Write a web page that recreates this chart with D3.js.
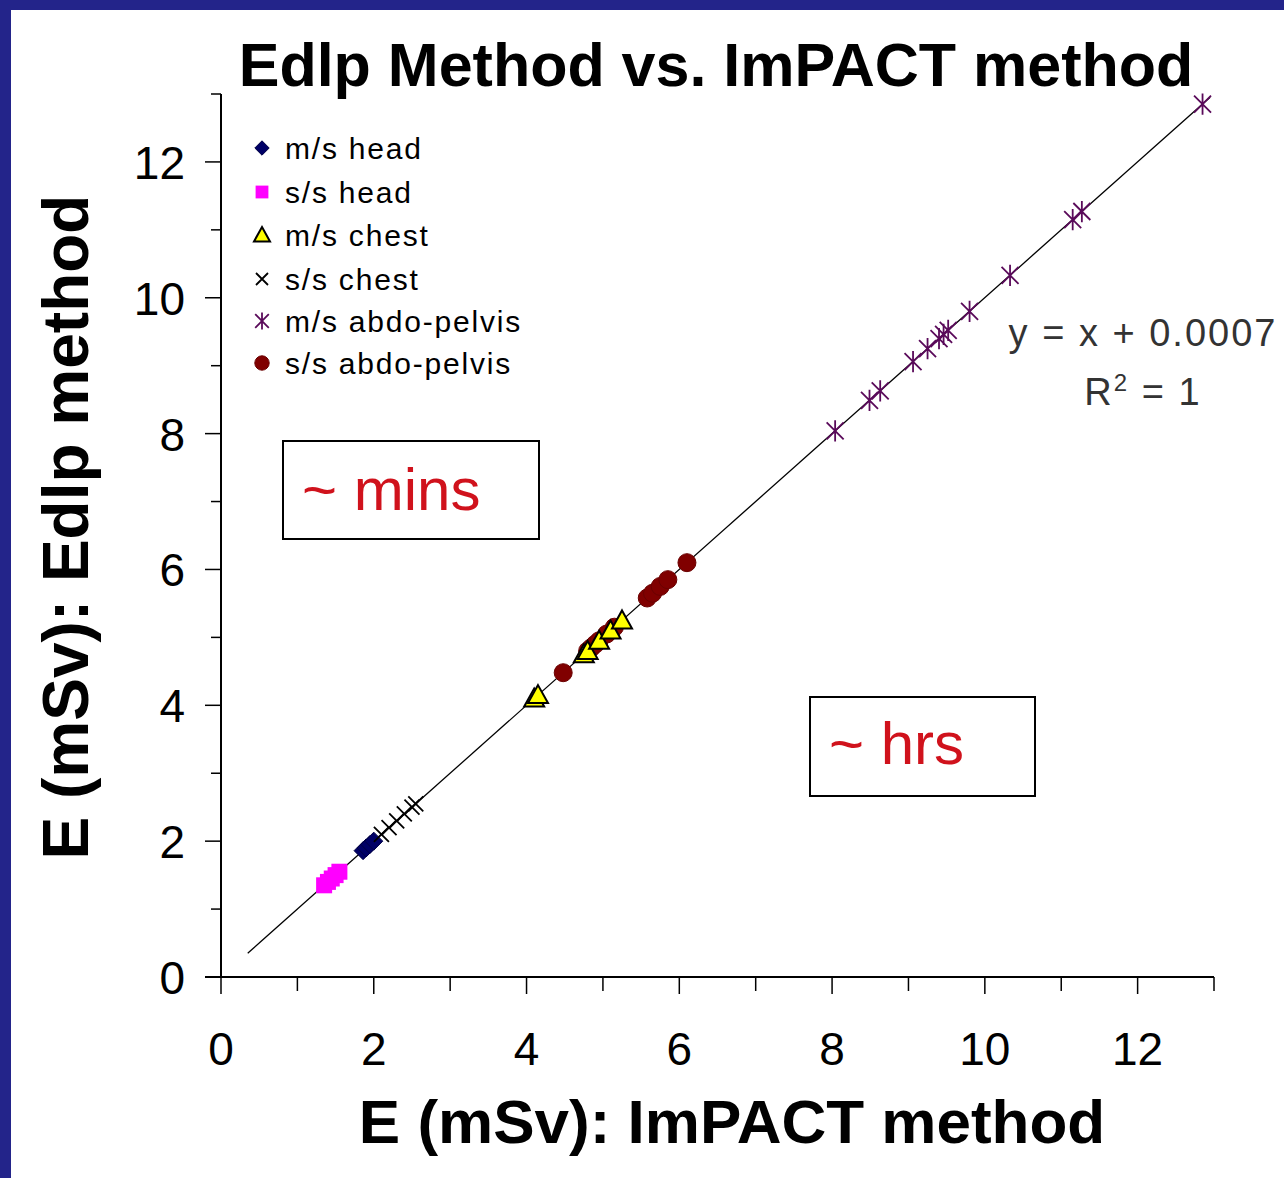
<!DOCTYPE html>
<html>
<head>
<meta charset="utf-8">
<script src="https://cdn.jsdelivr.net/npm/d3@7"></script>
<style>
  html, body { margin: 0; padding: 0; background: #ffffff; }
  svg { display: block; }
  text { font-family: "Liberation Sans", Arial, sans-serif; }
</style>
</head>
<body>
<svg id="chart" width="1284" height="1178"></svg>
<script>
// ---------------- data ----------------
const titleText = "Edlp Method vs. ImPACT method";
const xLabel = "E (mSv): ImPACT method";
const yLabel = "E (mSv): Edlp method";
const xTicks = [0, 2, 4, 6, 8, 10, 12];
const yTicks = [0, 2, 4, 6, 8, 10, 12];
const minorTicks = [1, 3, 5, 7, 9, 11, 13];
const seriesNames = ["m/s head", "s/s head", "m/s chest", "s/s chest", "m/s abdo-pelvis", "s/s abdo-pelvis"];

// [ImPACT, Edlp] pairs
const msHead = [[1.86, 1.86], [1.90, 1.90], [1.95, 1.95], [2.00, 2.00]];
const ssHead = [[1.35, 1.35], [1.40, 1.40], [1.45, 1.45], [1.50, 1.50], [1.55, 1.55]];
const msChest = [[4.10, 4.10], [4.15, 4.15], [4.75, 4.75], [4.80, 4.80], [4.95, 4.95], [5.10, 5.10], [5.25, 5.25]];
const ssChest = [[2.10, 2.10], [2.20, 2.20], [2.30, 2.30], [2.40, 2.40], [2.50, 2.50], [2.55, 2.55]];
const msAbdo = [[8.04, 8.04], [8.49, 8.49], [8.63, 8.63], [9.06, 9.06], [9.25, 9.25], [9.40, 9.40], [9.46, 9.46], [9.52, 9.52], [9.80, 9.80], [10.33, 10.33], [11.15, 11.15], [11.27, 11.27], [12.85, 12.85]];
const ssAbdo = [[4.48, 4.48], [4.80, 4.80], [4.85, 4.85], [4.90, 4.90], [4.95, 4.95], [5.05, 5.05], [5.15, 5.15], [5.58, 5.58], [5.65, 5.65], [5.75, 5.75], [5.85, 5.85], [6.10, 6.10]];

const trendSlope = 1;
const trendIntercept = 0.0007;
const trendRange = [0.35, 12.95];
const eqText = "y = x  + 0.0007";
const r2Text = ["R", "2", " = 1"];
const boxLabels = ["~ mins", "~ hrs"];

// ---------------- drawing ----------------
const svg = d3.select("#chart");

// frame
svg.append("rect").attr("x", 0).attr("y", 0).attr("width", 1284).attr("height", 10).attr("fill", "#23248a");
svg.append("rect").attr("x", 0).attr("y", 0).attr("width", 11).attr("height", 1178).attr("fill", "#23248a");
svg.append("rect").attr("x", 11).attr("y", 10).attr("width", 1273).attr("height", 1168).attr("fill", "#ffffff");

const x = d3.scaleLinear().domain([0, 13]).range([221, 1214]);
const y = d3.scaleLinear().domain([0, 13]).range([977, 94]);

// title
svg.append("text").attr("x", 716).attr("y", 86).attr("text-anchor", "middle")
  .attr("font-size", 61).attr("font-weight", "bold").attr("fill", "#000").text(titleText);

// axes
const gx = svg.append("g").attr("transform", `translate(0,${y(0)})`);
gx.append("line").attr("x1", 205).attr("x2", x(13)).attr("y1", 0).attr("y2", 0).attr("stroke", "#000").attr("stroke-width", 2);
gx.selectAll(".maj").data(xTicks).join("line")
  .attr("x1", d => x(d)).attr("x2", d => x(d)).attr("y1", 0).attr("y2", 17).attr("stroke", "#000").attr("stroke-width", 1.5);
gx.selectAll(".min").data(minorTicks).join("line")
  .attr("x1", d => x(d)).attr("x2", d => x(d)).attr("y1", 0).attr("y2", 14).attr("stroke", "#000").attr("stroke-width", 1.5);
gx.selectAll(".lab").data(xTicks).join("text")
  .attr("x", d => x(d)).attr("y", 88).attr("text-anchor", "middle")
  .attr("font-size", 46).attr("fill", "#000").text(d => d);

const gy = svg.append("g").attr("transform", `translate(${x(0)},0)`);
gy.append("line").attr("x1", 0).attr("x2", 0).attr("y1", y(13)).attr("y2", y(0) + 1).attr("stroke", "#000").attr("stroke-width", 2);
gy.selectAll(".maj").data(yTicks).join("line")
  .attr("x1", -16).attr("x2", 0).attr("y1", d => y(d)).attr("y2", d => y(d)).attr("stroke", "#000").attr("stroke-width", 1.5);
gy.selectAll(".min").data(minorTicks).join("line")
  .attr("x1", -10).attr("x2", 0).attr("y1", d => y(d)).attr("y2", d => y(d)).attr("stroke", "#000").attr("stroke-width", 1.5);
gy.selectAll(".lab").data(yTicks).join("text")
  .attr("x", -36).attr("y", d => y(d) + 17).attr("text-anchor", "end")
  .attr("font-size", 46).attr("fill", "#000").text(d => d);

// axis titles
svg.append("text").attr("x", 732).attr("y", 1143).attr("text-anchor", "middle")
  .attr("font-size", 62).attr("font-weight", "bold").attr("fill", "#000").text(xLabel);
svg.append("text").attr("transform", "translate(88,527) rotate(-90)").attr("text-anchor", "middle")
  .attr("font-size", 64).attr("font-weight", "bold").attr("fill", "#000").text(yLabel);

// trendline
svg.append("line")
  .attr("x1", x(trendRange[0])).attr("y1", y(trendSlope * trendRange[0] + trendIntercept))
  .attr("x2", x(trendRange[1])).attr("y2", y(trendSlope * trendRange[1] + trendIntercept))
  .attr("stroke", "#000").attr("stroke-width", 1.3);

// marker shapes
function drawMarker(g, type, cx, cy, s) {
  s = s || 1;
  if (type === 0) {
    const r = 9 * s;
    g.append("path").attr("d", `M${cx},${cy - r}L${cx + r},${cy}L${cx},${cy + r}L${cx - r},${cy}Z`)
      .attr("fill", "#000066").attr("stroke", "#000044").attr("stroke-width", 1);
  } else if (type === 1) {
    const h = 8 * s;
    g.append("rect").attr("x", cx - h).attr("y", cy - h).attr("width", 2 * h).attr("height", 2 * h).attr("fill", "#ff00ff");
  } else if (type === 2) {
    const r = 10 * s;
    g.append("path").attr("d", `M${cx},${cy - r}L${cx + r},${cy + r * 0.8}L${cx - r},${cy + r * 0.8}Z`)
      .attr("fill", "#ffff00").attr("stroke", "#000").attr("stroke-width", 2);
  } else if (type === 3) {
    const r = 7.5 * s;
    g.append("path").attr("d", `M${cx - r},${cy - r}L${cx + r},${cy + r}M${cx - r},${cy + r}L${cx + r},${cy - r}`)
      .attr("stroke", "#000").attr("stroke-width", 1.8).attr("fill", "none");
  } else if (type === 4) {
    const r = 8.5 * s;
    g.append("path").attr("d", `M${cx - r},${cy - r}L${cx + r},${cy + r}M${cx - r},${cy + r}L${cx + r},${cy - r}M${cx},${cy - r * 1.25}L${cx},${cy + r * 1.25}`)
      .attr("stroke", "#5a0a5a").attr("stroke-width", 1.8).attr("fill", "none");
  } else {
    g.append("circle").attr("cx", cx).attr("cy", cy).attr("r", 9 * s).attr("fill", "#800000").attr("stroke", "#6a0000").attr("stroke-width", 1);
  }
}

const allSeries = [msHead, ssHead, msChest, ssChest, msAbdo, ssAbdo];
const drawOrder = [1, 0, 3, 5, 2, 4];
const gm = svg.append("g");
drawOrder.forEach(i => {
  allSeries[i].forEach(p => drawMarker(gm, i, x(p[0]), y(p[1])));
});

// legend
const legY = [148, 192, 235, 279, 321, 363];
const gl = svg.append("g");
seriesNames.forEach((name, i) => {
  drawMarker(gl, i, 262, legY[i], 0.8);
  gl.append("text").attr("x", 285).attr("y", legY[i] + 11).attr("font-size", 30)
    .attr("letter-spacing", 1.8).attr("fill", "#000").text(name);
});

// equation
svg.append("text").attr("x", 1143).attr("y", 346).attr("text-anchor", "middle")
  .attr("font-size", 38).attr("letter-spacing", 2).attr("fill", "#333").text(eqText);
const r2 = svg.append("text").attr("x", 1143).attr("y", 405).attr("text-anchor", "middle")
  .attr("font-size", 38).attr("letter-spacing", 2).attr("fill", "#333");
r2.append("tspan").text(r2Text[0]);
r2.append("tspan").attr("dy", -14).attr("font-size", 24).text(r2Text[1]);
r2.append("tspan").attr("dy", 14).text(r2Text[2]);

// annotation boxes
const boxes = [
  { x: 283, y: 441, w: 256, h: 98, tx: 302, ty: 510 },
  { x: 810, y: 697, w: 225, h: 99, tx: 829, ty: 764 }
];
boxes.forEach((b, i) => {
  svg.append("rect").attr("x", b.x).attr("y", b.y).attr("width", b.w).attr("height", b.h)
    .attr("fill", "#fff").attr("stroke", "#000").attr("stroke-width", 2);
  svg.append("text").attr("x", b.tx).attr("y", b.ty).attr("font-size", 60)
    .attr("fill", "#d0121c").text(boxLabels[i]);
});
</script>
</body>
</html>
